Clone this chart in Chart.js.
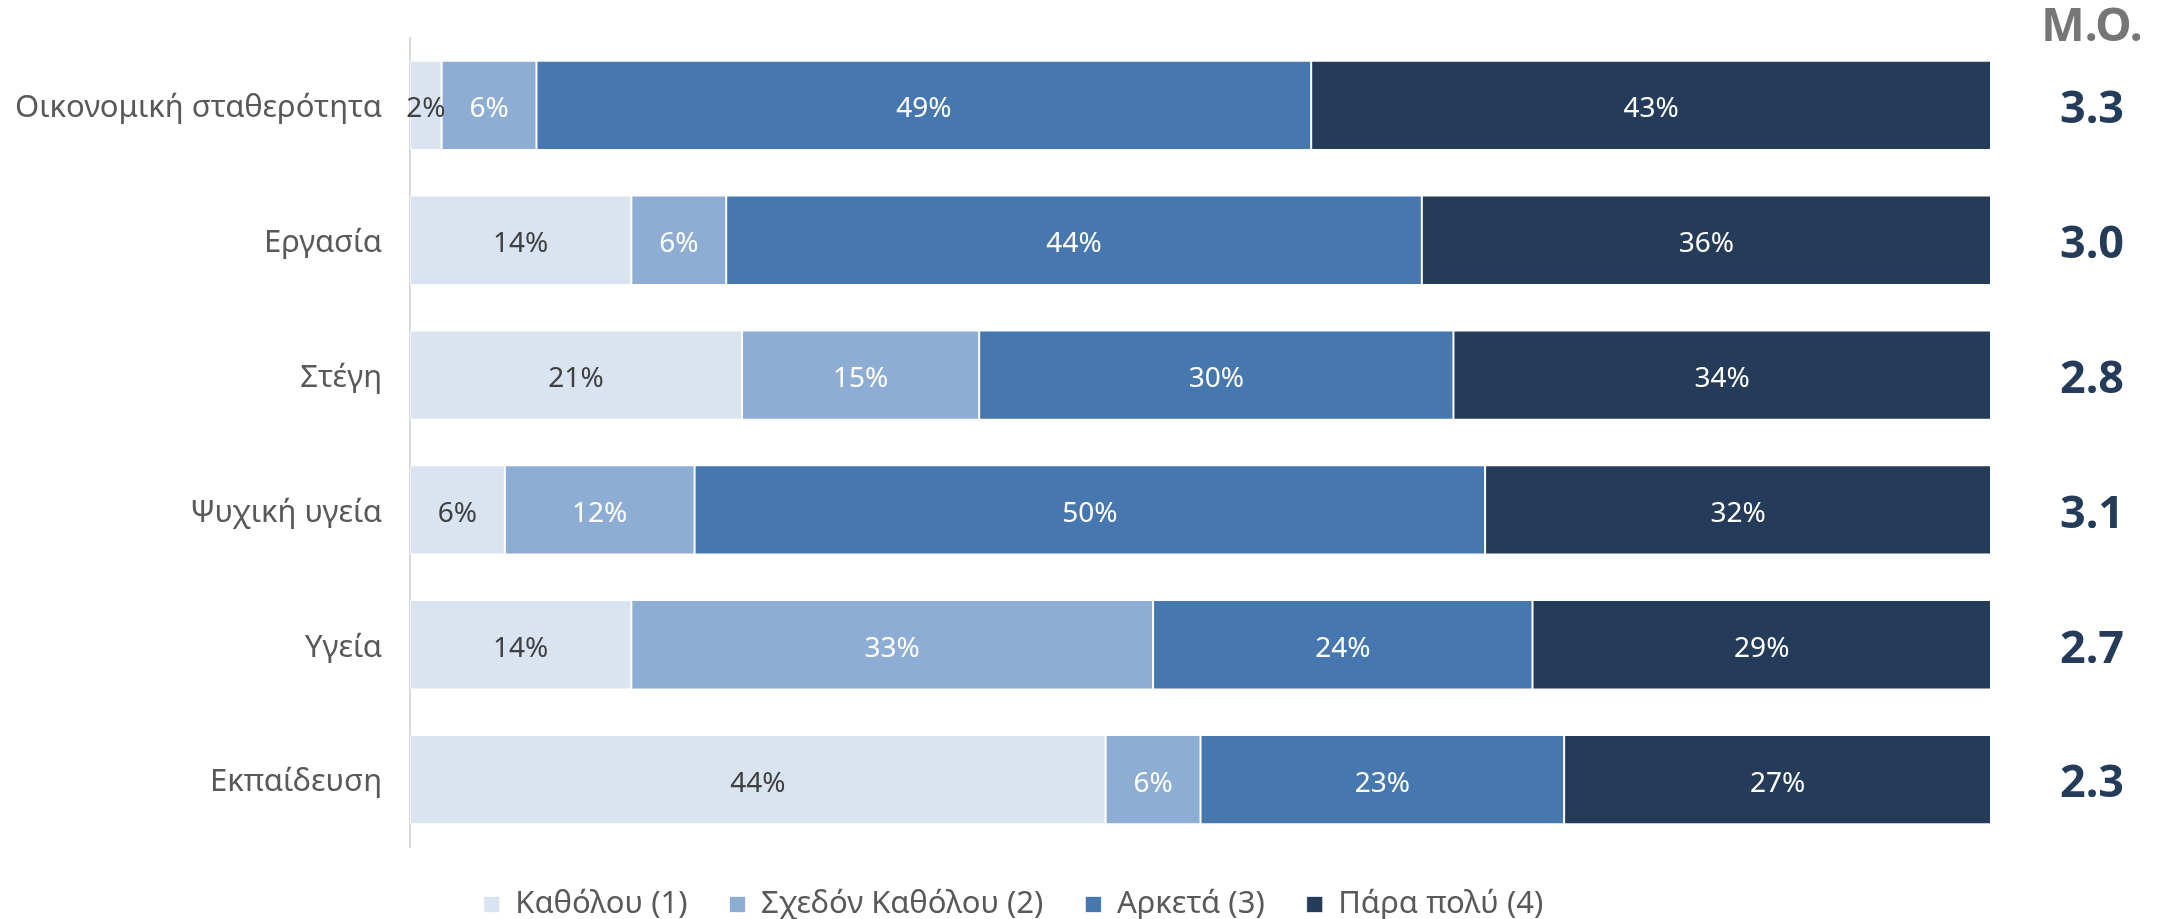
<!DOCTYPE html>
<html lang="el">
<head>
<meta charset="utf-8">
<title>Σημαντικότητα ανά τομέα</title>
<script src="https://cdn.jsdelivr.net/npm/chart.js@4.4.1/dist/chart.umd.min.js"></script>
<style>
  html, body { margin: 0; padding: 0; background: #ffffff; }
  canvas { display: block; }
</style>
</head>
<body>
<canvas id="chart" width="2164" height="919"></canvas>
<script>
const categories = [
  "Οικονομική σταθερότητα",
  "Εργασία",
  "Στέγη",
  "Ψυχική υγεία",
  "Υγεία",
  "Εκπαίδευση",
];

const seriesNames = ["Καθόλου (1)", "Σχεδόν Καθόλου (2)", "Αρκετά (3)", "Πάρα πολύ (4)"];

// percentages per answer, same order as categories
const notAtAll = [2, 14, 21, 6, 14, 44];
const hardly = [6, 6, 15, 12, 33, 6];
const enough = [49, 44, 30, 50, 24, 23];
const veryMuch = [43, 36, 34, 32, 29, 27];

// mean score per category
const meanTitle = "Μ.Ο.";
const means = [3.3, 3.0, 2.8, 3.1, 2.7, 2.3];

const colors = ["#dae3f0", "#8eadd4", "#4677ae", "#243b59"];
const labelColors = ["#404040", "#ffffff", "#ffffff", "#ffffff"];
const fontFamily = "'Noto Sans', 'Open Sans', sans-serif";

// percent labels centred in each segment
const segmentLabels = {
  id: "segmentLabels",
  afterDatasetsDraw(chart) {
    const { ctx } = chart;
    ctx.save();
    ctx.font = `28px ${fontFamily}`;
    ctx.textAlign = "center";
    ctx.textBaseline = "middle";
    chart.data.datasets.forEach((ds, i) => {
      const meta = chart.getDatasetMeta(i);
      meta.data.forEach((bar, j) => {
        const { x, y, base } = bar.getProps(["x", "y", "base"], true);
        ctx.fillStyle = labelColors[i];
        ctx.fillText(`${ds.data[j]}%`, (x + base) / 2, y + 4);
      });
    });
    ctx.restore();
  },
};

// mean column on the right of the bars
const meanColumn = {
  id: "meanColumn",
  afterDraw(chart) {
    const { ctx, chartArea } = chart;
    const yScale = chart.scales.y;
    const cx = chartArea.right + 101;
    ctx.save();
    ctx.textAlign = "center";
    ctx.textBaseline = "middle";
    ctx.fillStyle = "#767676";
    ctx.font = `bold 46px ${fontFamily}`;
    ctx.fillText(meanTitle, cx, 28);
    ctx.fillStyle = "#243b59";
    ctx.font = `bold 45px ${fontFamily}`;
    means.forEach((m, i) => {
      ctx.fillText(m.toFixed(1), cx, yScale.getPixelForValue(i) + 5);
    });
    ctx.restore();
  },
};

// keep the legend tight under the bars
const legendHeight = {
  id: "legendHeight",
  beforeInit(chart) {
    const fit = chart.legend.fit;
    chart.legend.fit = function () {
      fit.call(this);
      this.height = 72;
    };
  },
};

const datasets = [notAtAll, hardly, enough, veryMuch].map((values, i) => ({
  label: seriesNames[i],
  data: values,
  backgroundColor: colors[i],
  borderColor: "rgba(255,255,255,0.7)",
  borderWidth: 1,
  borderSkipped: false,
  categoryPercentage: 1,
  barPercentage: 0.662,
}));

new Chart(document.getElementById("chart"), {
  type: "bar",
  data: { labels: categories, datasets },
  options: {
    indexAxis: "y",
    responsive: false,
    animation: false,
    layout: {
      autoPadding: false,
      padding: { top: 38, left: 0, right: 137, bottom: 0 },
    },
    scales: {
      x: { stacked: true, min: 0, max: 100, display: false },
      y: {
        stacked: true,
        grid: { display: false, drawTicks: false },
        border: { display: true, color: "#d9d9d9", width: 2 },
        ticks: {
          color: "#595959",
          padding: 28,
          labelOffset: 3,
          // small line height so the end labels don't push the plot down
          font: { family: fontFamily, size: 31, lineHeight: 0.5 },
        },
        afterFit(scale) {
          scale.width = 410;
        },
      },
      // empty strip between the bars and the mean column
      gap: {
        type: "category",
        position: "right",
        grid: { display: false, drawTicks: false },
        border: { display: false },
        ticks: { display: false },
        afterFit(scale) {
          scale.width = 36;
        },
      },
    },
    plugins: {
      legend: {
        position: "bottom",
        labels: {
          color: "#595959",
          boxWidth: 16,
          boxHeight: 16,
          padding: 42,
          font: { family: fontFamily, size: 31 },
        },
      },
      tooltip: { enabled: false },
    },
  },
  plugins: [segmentLabels, meanColumn, legendHeight],
});
</script>
</body>
</html>
